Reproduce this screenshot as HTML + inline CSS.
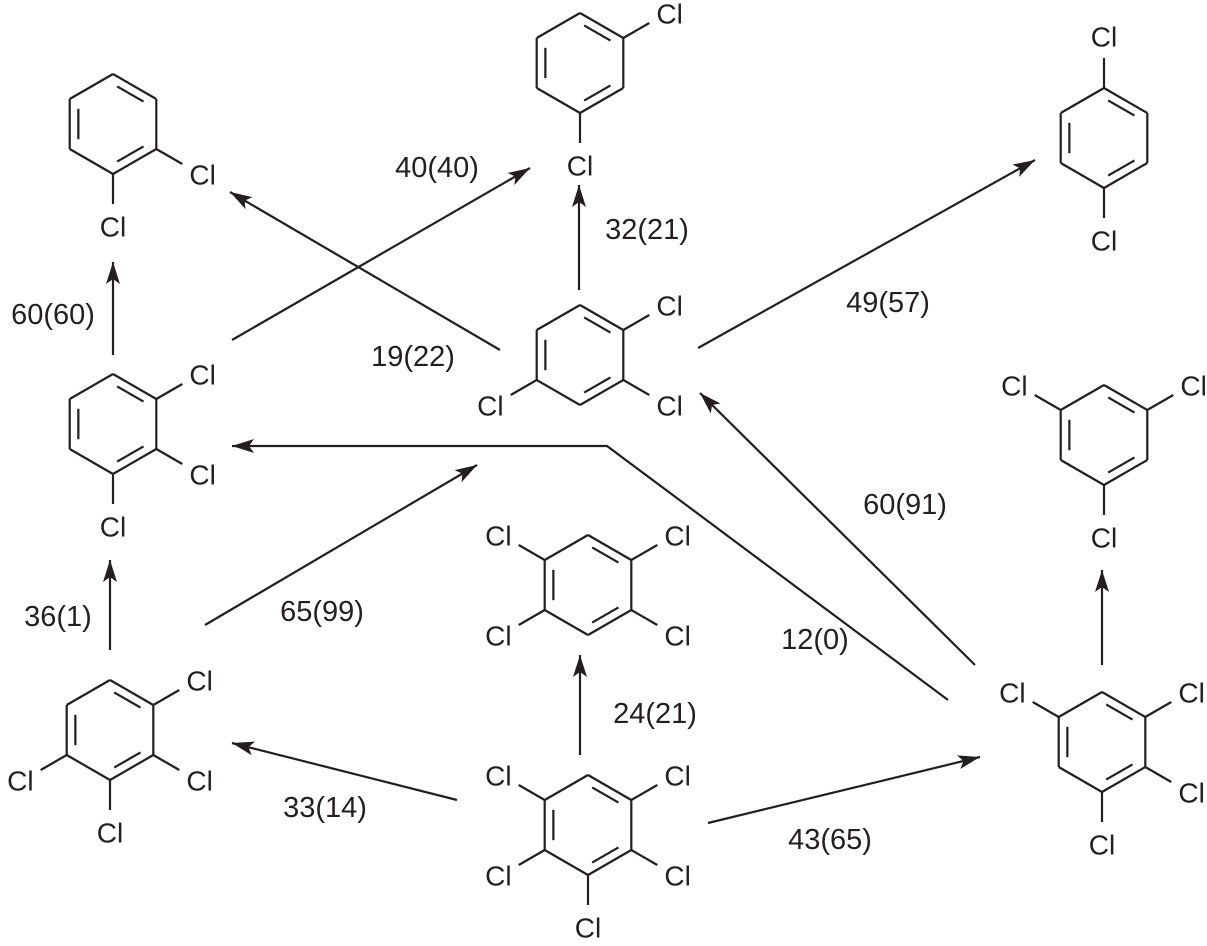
<!DOCTYPE html>
<html><head><meta charset="utf-8"><style>
html,body{margin:0;padding:0;background:#fff;}
svg{display:block;}
text{font-family:"Liberation Sans",Arial,sans-serif;fill:#231f20;}
</style></head><body>
<svg id="s" width="1207" height="946" viewBox="0 0 1207 946" xmlns="http://www.w3.org/2000/svg"></svg>
<script>
var s=document.getElementById('s'),out='';
var R=50, C='#231f20';
function L(a,b,c,d){out+='<line x1="'+a+'" y1="'+b+'" x2="'+c+'" y2="'+d+'" stroke="'+C+'" stroke-width="2.2"/>';}
function T(x,y,t,fs){out+='<text x="'+x+'" y="'+y+'" font-size="'+fs+'" text-anchor="middle" dominant-baseline="central">'+t+'</text>';}
function ring(cx,cy,subs){
  var v=[];
  for(var i=0;i<6;i++){var a=(-90+60*i)*Math.PI/180;v.push([cx+R*Math.cos(a),cy+R*Math.sin(a)]);}
  for(var i=0;i<6;i++){var p=v[i],q=v[(i+1)%6];L(p[0],p[1],q[0],q[1]);}
  [0,2,4].forEach(function(i){
    var p=v[i],q=v[(i+1)%6];var f=0.8;
    var ip=[cx+(p[0]-cx)*f,cy+(p[1]-cy)*f],iq=[cx+(q[0]-cx)*f,cy+(q[1]-cy)*f];
    var dx=iq[0]-ip[0],dy=iq[1]-ip[1],k=0.12;
    L(ip[0]+dx*k,ip[1]+dy*k,iq[0]-dx*k,iq[1]-dy*k);
  });
  subs.forEach(function(i){
    var p=v[i],dx=(p[0]-cx)/R,dy=(p[1]-cy)/R;
    L(p[0],p[1],p[0]+dx*30,p[1]+dy*30);
    var lx=p[0]+dx*50,ly=p[1]+dy*50;
    if(dx>0.1)lx+=3; if(dx<-0.1)lx-=3;
    if(Math.abs(dx)<0.1)ly+=dy*2;
    T(lx,ly+1,'Cl',28);
  });
}
function arrow(pts){
  var d='M'+pts.map(function(p){return p.join(',')}).join(' L');
  var n=pts.length,a=pts[n-2],b=pts[n-1];
  var dx=b[0]-a[0],dy=b[1]-a[1],l=Math.hypot(dx,dy);dx/=l;dy/=l;
  var px=-dy,py=dx,h=22,w=7;
  var e=[b[0]-dx*(h-5),b[1]-dy*(h-5)];
  out+='<path d="'+d+'" fill="none" stroke="'+C+'" stroke-width="2.2"/>';
  out+='<path d="M'+b[0]+','+b[1]+' L'+(b[0]-dx*h+px*w)+','+(b[1]-dy*h+py*w)+' L'+e[0]+','+e[1]+' L'+(b[0]-dx*h-px*w)+','+(b[1]-dy*h-py*w)+' Z" fill="'+C+'"/>';
}
ring(113,124,[2,3]);
ring(580,63,[1,3]);
ring(1104,138,[0,3]);
ring(580,355,[1,2,4]);
ring(1104,435,[1,3,5]);
ring(113,424,[1,2,3]);
ring(588,585,[1,2,4,5]);
ring(110,730,[1,2,3,4]);
ring(588,825,[1,2,3,4,5]);
ring(1102,742,[1,2,3,5]);
arrow([[113,355],[113,262]]);
arrow([[110,650],[110,560]]);
arrow([[232,340],[530,168]]);
arrow([[500,350],[230,192]]);
arrow([[579,290],[579,185]]);
arrow([[698,348],[1035,160]]);
arrow([[205,625],[477,465]]);
arrow([[948,700],[607,446],[232,446]]);
arrow([[975,665],[700,393]]);
arrow([[1102,665],[1102,570]]);
arrow([[580,755],[580,655]]);
arrow([[457,800],[232,743]]);
arrow([[708,823],[980,757]]);
T(53,315,'60(60)',29);
T(58,617,'36(1)',29);
T(437,168,'40(40)',29);
T(413,357,'19(22)',29);
T(647,230,'32(21)',29);
T(888,303,'49(57)',29);
T(322,612,'65(99)',29);
T(815,640,'12(0)',29);
T(905,505,'60(91)',29);
T(655,714,'24(21)',29);
T(325,808,'33(14)',29);
T(830,840,'43(65)',29);
s.innerHTML=out;
</script>
</body></html>
